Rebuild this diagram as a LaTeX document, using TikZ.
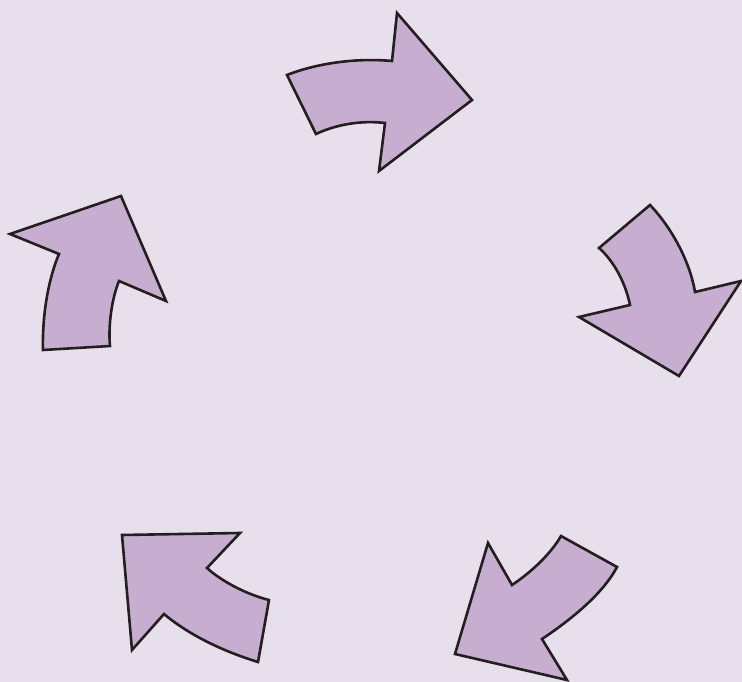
\documentclass[tikz,border=0pt]{standalone}
\usepackage{tikz}
\usetikzlibrary{calc}

\definecolor{bgpurple}{RGB}{232,223,236}
\definecolor{arrowpurple}{RGB}{199,174,208}
\definecolor{edgeblack}{RGB}{35,31,32}

\begin{document}
\begin{tikzpicture}[
  x=1pt, y=-1pt,
  cyclearrow/.style={fill=arrowpurple, draw=edgeblack, line width=2.6pt,
    line join=miter, miter limit=10},
]
\fill[bgpurple] (0,0) rectangle (742,682);
\useasboundingbox (0,0) rectangle (742,682);

% top
\draw[cyclearrow] (287,75) .. controls (320,62) and (360,58) .. (392,61)
  -- (397,13) -- (472,100) -- (379,171) -- (385,123)
  .. controls (360,120) and (335,125) .. (316,134) -- cycle;

% right
\draw[cyclearrow] (650,205) .. controls (672,228) and (690,262) .. (695,292)
  -- (741,281) -- (679,376) -- (579,317) -- (630,305)
  .. controls (626,285) and (615,262) .. (599,248) -- cycle;

% bottom right
\draw[cyclearrow] (561,536) -- (617,567)
  .. controls (605,590) and (578,615) .. (542,639)
  -- (567,680) -- (455,654) -- (488,543) -- (512,585)
  .. controls (530,573) and (550,555) .. cycle;

% bottom left
\draw[cyclearrow] (122,535) -- (240,533) -- (207,568)
  .. controls (220,580) and (245,594) .. (269,600)
  -- (258,662) .. controls (235,655) and (195,640) .. (164,614)
  -- (132,650) -- cycle;

% left
\draw[cyclearrow] (43,350) -- (110,346)
  .. controls (108,325) and (112,298) .. (119,281)
  -- (166,301) -- (121,196) -- (10,234) -- (59,254)
  .. controls (50,275) and (42,310) .. cycle;
\end{tikzpicture}
\end{document}
